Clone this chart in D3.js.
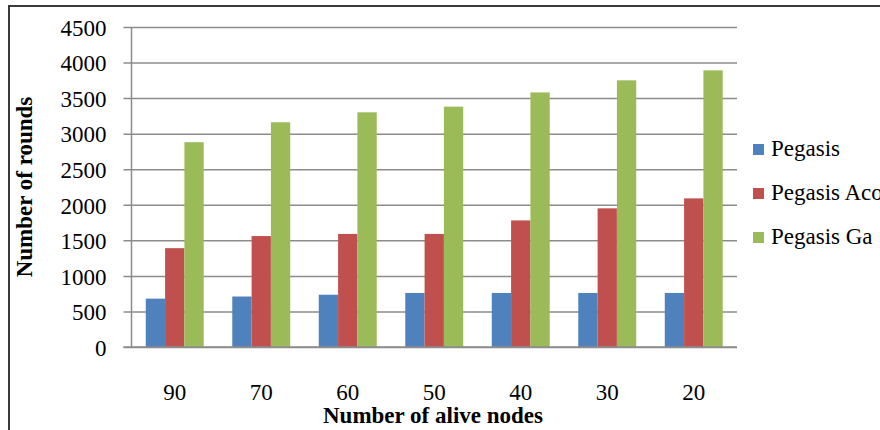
<!DOCTYPE html>
<html>
<head>
<meta charset="utf-8">
<script src="https://cdn.jsdelivr.net/npm/d3@7"></script>
<style>
  html, body { margin: 0; padding: 0; background: #fff; }
  svg { display: block; }
  text { font-family: "Liberation Serif", "Times New Roman", serif; fill: #000; }
</style>
</head>
<body>
<svg id="chart" width="880" height="430"></svg>
<script>
const categories = ["90", "70", "60", "50", "40", "30", "20"];
const seriesNames = ["Pegasis", "Pegasis Aco", "Pegasis Ga"];
const pegasis    = [680, 710, 735, 760, 760, 760, 760];
const pegasisAco = [1390, 1560, 1590, 1590, 1780, 1950, 2090];
const pegasisGa  = [2880, 3160, 3300, 3380, 3580, 3750, 3890];
const yTicks = [0, 500, 1000, 1500, 2000, 2500, 3000, 3500, 4000, 4500];
const colors = ["#4F81BD", "#C0504D", "#9BBB59"];
const xTitle = "Number of alive nodes";
const yTitle = "Number of rounds";

const seriesValues = [pegasis, pegasisAco, pegasisGa];
const svg = d3.select("#chart");

// outer chart border
svg.append("rect")
  .attr("x", 9).attr("y", 6).attr("width", 900).attr("height", 450)
  .attr("fill", "none").attr("stroke", "#3a3a3a").attr("stroke-width", 2);

const pLeft = 131.5, pRight = 737, pTop = 27, pBottom = 347;

const y = d3.scaleLinear().domain([0, 4500]).range([pBottom, pTop]);
const x0 = d3.scaleBand().domain(categories).range([pLeft, pRight])
  .paddingInner(0.33).paddingOuter(0.165);
const x1 = d3.scaleBand().domain(d3.range(seriesNames.length))
  .range([0, x0.bandwidth()]);

// gridlines + y axis
const yAxis = d3.axisLeft(y).tickValues(yTicks)
  .tickSize(-(pRight - pLeft)).tickSizeOuter(0).tickPadding(25).tickFormat(d3.format("d"));
const gy = svg.append("g").attr("transform", `translate(${pLeft},0)`).call(yAxis);
gy.select(".domain").remove();
gy.selectAll(".tick line").attr("stroke", "#8c8c8c").attr("stroke-width", 1.5)
  .attr("x1", -8);
gy.selectAll(".tick text")
  .style("font-family", '"Liberation Serif", "Times New Roman", serif')
  .style("font-size", "23px").attr("fill", "#000").attr("dy", "0.36em");

// y axis line
svg.append("line").attr("x1", pLeft).attr("x2", pLeft).attr("y1", pTop).attr("y2", pBottom)
  .attr("stroke", "#8c8c8c").attr("stroke-width", 1.5);

// bars
const groups = svg.append("g").selectAll("g")
  .data(categories).join("g")
  .attr("transform", d => `translate(${x0(d)},0)`);
groups.selectAll("rect")
  .data((c, i) => seriesValues.map((vals, s) => ({ s, v: vals[i] })))
  .join("rect")
  .attr("x", d => x1(d.s))
  .attr("width", x1.bandwidth())
  .attr("y", d => y(d.v))
  .attr("height", d => y(0) - y(d.v))
  .attr("fill", d => colors[d.s]);

// x axis
const xAxis = d3.axisBottom(x0).tickSize(0).tickPadding(37);
const gx = svg.append("g").attr("transform", `translate(0,${pBottom})`).call(xAxis);
gx.select(".domain").remove();
gx.selectAll(".tick text")
  .style("font-family", '"Liberation Serif", "Times New Roman", serif')
  .style("font-size", "23px").attr("fill", "#000");
svg.append("line").attr("x1", pLeft - 8).attr("x2", pRight).attr("y1", pBottom).attr("y2", pBottom)
  .attr("stroke", "#8c8c8c").attr("stroke-width", 1.5);

// axis titles
svg.append("text").attr("x", 433).attr("y", 423).attr("text-anchor", "middle")
  .style("font-size", "23px").style("font-weight", "bold")
  .text(xTitle);
svg.append("text").attr("transform", "translate(32,187) rotate(-90)")
  .attr("text-anchor", "middle")
  .style("font-size", "23px").style("font-weight", "bold")
  .text(yTitle);

// legend
const legend = svg.append("g").selectAll("g").data(seriesNames).join("g")
  .attr("transform", (d, i) => `translate(753,${156 + i * 44})`);
legend.append("rect").attr("x", 0).attr("y", -12).attr("width", 11).attr("height", 11)
  .attr("fill", (d, i) => colors[i]);
legend.append("text").attr("x", 18).attr("y", 0)
  .style("font-size", "23px").text(d => d);
</script>
</body>
</html>
